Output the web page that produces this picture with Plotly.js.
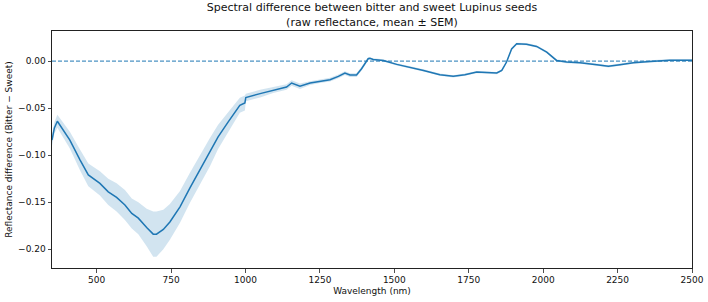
<!DOCTYPE html>
<html>
<head>
<meta charset="utf-8">
<script src="https://cdn.plot.ly/plotly-3.0.1.min.js"></script>
<style>
  html, body { margin: 0; padding: 0; background: #fff; }
  #chart { width: 708px; height: 302px; }
</style>
</head>
<body>
<div id="chart"></div>
<script>
// Wavelength grid (nm)
const wavelength = [
  350, 358, 368, 388, 410, 444, 472, 511, 539, 567, 595, 618, 640, 668, 690, 701,
  724, 746, 780, 813, 847, 881, 908, 942, 965, 981, 998, 1001, 1049, 1093, 1138,
  1155, 1183, 1217, 1250, 1284, 1312, 1334, 1351, 1373, 1390, 1412, 1418, 1429,
  1463, 1508, 1598, 1653, 1698, 1737, 1777, 1810, 1844, 1861, 1877, 1894, 1911,
  1944, 1978, 2012, 2045, 2079, 2124, 2180, 2219, 2258, 2303, 2359, 2426, 2500
];

// Mean reflectance difference (Bitter − Sweet)
const meanDiff = [
  -0.084, -0.071, -0.064, -0.0735, -0.084, -0.105, -0.121, -0.130, -0.139, -0.145,
  -0.153, -0.162, -0.167, -0.177, -0.184, -0.184, -0.179, -0.171, -0.155, -0.135,
  -0.116, -0.0965, -0.0806, -0.0647, -0.054, -0.047, -0.0445, -0.0388, -0.0346,
  -0.031, -0.0276, -0.0233, -0.0268, -0.0233, -0.0212, -0.0198, -0.0162, -0.0127,
  -0.0148, -0.0148, -0.0081, 0.0025, 0.0029, 0.0018, 0.0007, -0.0035, -0.0099,
  -0.0144, -0.0162, -0.0145, -0.0116, -0.0123, -0.0127, -0.0099, -0.001, 0.013,
  0.0184, 0.018, 0.0156, 0.0096, 0.0007, -0.001, -0.0017, -0.0038, -0.0056,
  -0.0038, -0.0017, -0.0003, 0.001, 0.001
];

// Standard error of the mean
const semDiff = [
  0.006, 0.006, 0.007, 0.008, 0.009, 0.011, 0.012, 0.013, 0.014, 0.015,
  0.016, 0.016, 0.017, 0.020, 0.024, 0.024, 0.021, 0.019, 0.017, 0.016,
  0.016, 0.015, 0.013, 0.011, 0.009, 0.008, 0.008, 0.004, 0.004,
  0.003, 0.003, 0.003, 0.003, 0.002, 0.002, 0.002, 0.002, 0.002,
  0.002, 0.002, 0.002, 0.0015, 0.0012, 0.0012, 0.0012, 0.0012, 0.0012,
  0.0012, 0.0012, 0.0012, 0.0012, 0.0012, 0.0012, 0.0012, 0.0012, 0.0012,
  0.0012, 0.0012, 0.0012, 0.0012, 0.0012, 0.0012, 0.0012, 0.0012, 0.0012,
  0.0012, 0.0012, 0.0012, 0.0012, 0.0012
];

const xTicks = [500, 750, 1000, 1250, 1500, 1750, 2000, 2250, 2500];
const yTicks = [0.00, -0.05, -0.10, -0.15, -0.20];

const BLUE = '#1f77b4';
const lower = meanDiff.map((m, i) => m - semDiff[i]);
const upper = meanDiff.map((m, i) => m + semDiff[i]);

const traces = [
  { x: wavelength, y: lower, mode: 'lines', line: { width: 0, color: BLUE },
    hoverinfo: 'skip', showlegend: false },
  { x: wavelength, y: upper, mode: 'lines', line: { width: 0, color: BLUE },
    fill: 'tonexty', fillcolor: 'rgba(31,119,180,0.2)', hoverinfo: 'skip', showlegend: false },
  { x: wavelength, y: meanDiff, mode: 'lines', line: { width: 1.5, color: BLUE },
    showlegend: false }
];

const font = { family: 'DejaVu Sans, sans-serif', color: '#111' };

const layout = {
  width: 708, height: 302,
  margin: { l: 52, r: 16, t: 31, b: 34, pad: 0 },
  paper_bgcolor: '#fff', plot_bgcolor: '#fff',
  font: Object.assign({ size: 9 }, font),
  title: {
    text: 'Spectral difference between bitter and sweet Lupinus seeds<br>(raw reflectance, mean ± SEM)',
    font: Object.assign({}, font, { size: 11 }),
    x: 0.5, xref: 'paper', y: 0.962, yref: 'container', yanchor: 'top'
  },
  xaxis: {
    range: [350, 2500], tickvals: xTicks, ticktext: xTicks.map(String),
    showgrid: false, zeroline: false,
    showline: true, linecolor: '#222', linewidth: 1, mirror: true,
    ticks: 'outside', ticklen: 3.5, tickwidth: 0.8, tickcolor: '#222',
    tickfont: { size: 9 },
    title: { text: 'Wavelength (nm)', font: { size: 9 }, standoff: 3 }
  },
  yaxis: {
    range: [-0.22, 0.032], tickvals: yTicks, tickformat: '.2f',
    showgrid: false, zeroline: false,
    showline: true, linecolor: '#222', linewidth: 1, mirror: true,
    ticks: 'outside', ticklen: 3.5, tickwidth: 0.8, tickcolor: '#222',
    tickfont: { size: 9 },
    title: { text: 'Reflectance difference (Bitter − Sweet)', font: { size: 9 }, standoff: 3 }
  },
  shapes: [
    { type: 'line', xref: 'paper', x0: 0, x1: 1, yref: 'y', y0: 0, y1: 0,
      line: { color: BLUE, width: 1, dash: '4px,2px' } }
  ]
};

Plotly.newPlot('chart', traces, layout, { staticPlot: true, displayModeBar: false });
</script>
</body>
</html>
